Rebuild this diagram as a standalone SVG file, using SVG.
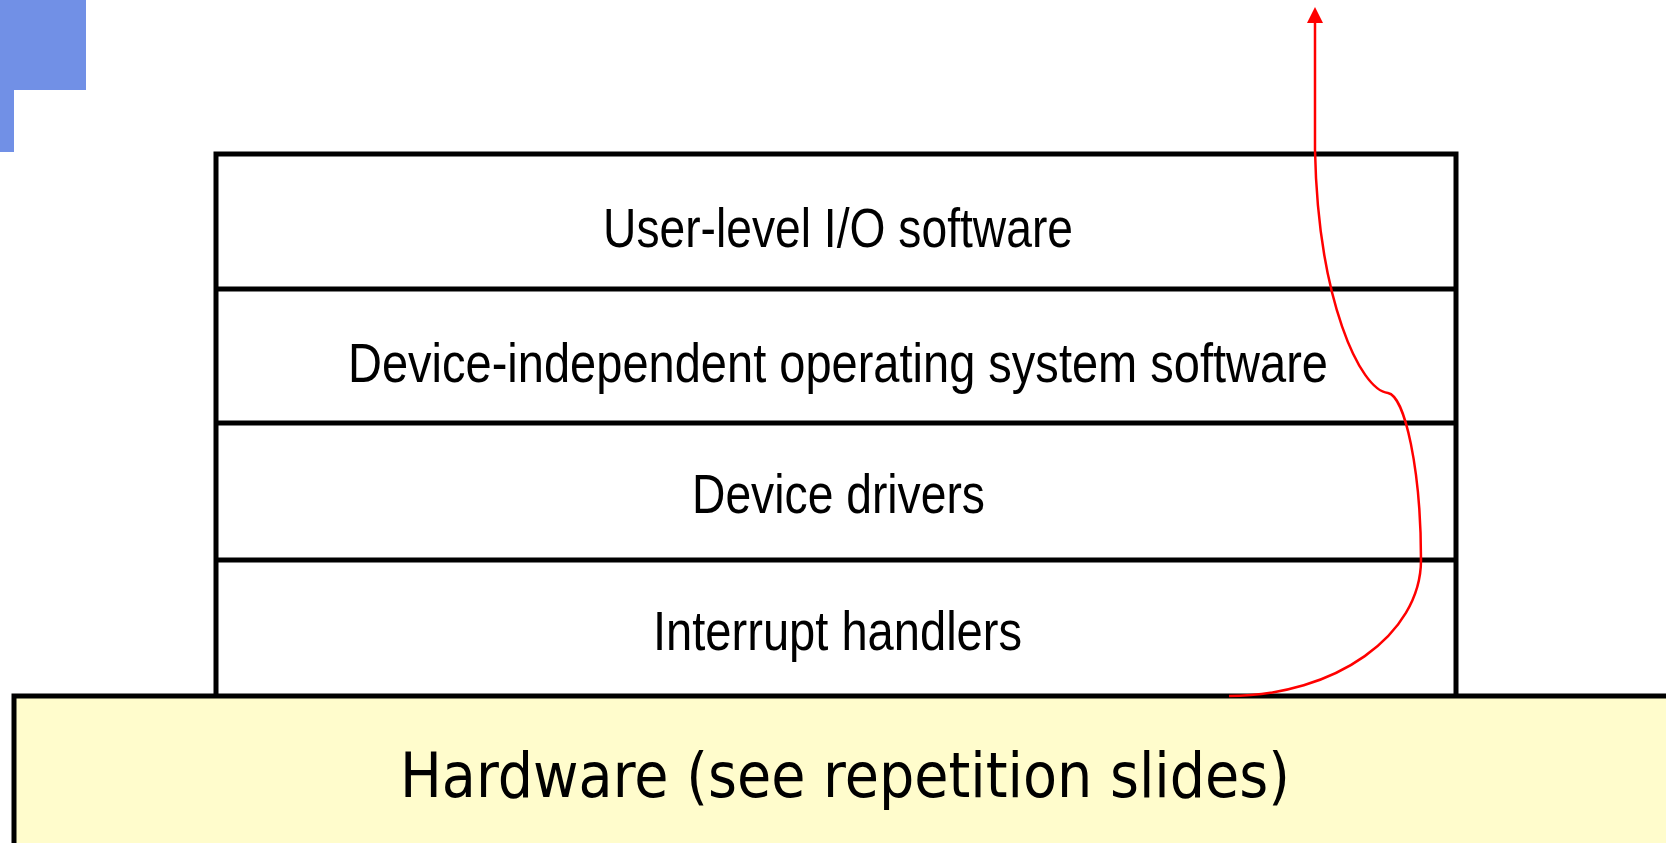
<svg xmlns="http://www.w3.org/2000/svg" width="1666" height="843" viewBox="0 0 1666 843">
  <style>
    .layer-line { stroke: #000; stroke-width: 5; fill: none; }
    .layer-text { font-family: "Liberation Sans", Arial, sans-serif; font-size: 55px; fill: #000; text-anchor: start; }
    .hw-text { font-family: "DejaVu Sans", Verdana, sans-serif; font-size: 62px; fill: #000; }
    .flow { stroke: #ff0000; stroke-width: 2.5; fill: none; }
  </style>
  <defs>
    <marker id="arrow" markerUnits="userSpaceOnUse" markerWidth="16" markerHeight="16" refX="0" refY="8" orient="auto" overflow="visible">
      <path d="M0,0 L16,8 L0,16 Z" fill="#ff0000"/>
    </marker>
  </defs>

  <rect width="1666" height="843" fill="#ffffff"/>

  <!-- corner ornament -->
  <g id="corner-mark" fill="#7190e6">
    <rect x="0" y="0" width="86" height="90"/>
    <rect x="0" y="0" width="14" height="152"/>
  </g>

  <!-- software layer stack -->
  <g id="stack-frame">
    <rect x="216" y="154" width="1240" height="560" fill="#ffffff" class="layer-line"/>
  </g>
  <g id="layer-user">
    <text class="layer-text" x="603" y="247" textLength="470" lengthAdjust="spacingAndGlyphs" font-size="58">User-level I/O software</text>
    <line class="layer-line" x1="216" y1="289" x2="1456" y2="289"/>
  </g>
  <g id="layer-device-independent">
    <text class="layer-text" x="348" y="382" textLength="980" lengthAdjust="spacingAndGlyphs">Device-independent operating system software</text>
    <line class="layer-line" x1="216" y1="423" x2="1456" y2="423"/>
  </g>
  <g id="layer-drivers">
    <text class="layer-text" x="692" y="513" textLength="293" lengthAdjust="spacingAndGlyphs">Device drivers</text>
    <line class="layer-line" x1="216" y1="560" x2="1456" y2="560"/>
  </g>
  <g id="layer-interrupts">
    <text class="layer-text" x="653" y="650" textLength="369" lengthAdjust="spacingAndGlyphs">Interrupt handlers</text>
  </g>

  <!-- hardware base -->
  <g id="hardware">
    <rect x="14" y="696" width="1680" height="170" fill="#fffccc" stroke="#000" stroke-width="5"/>
    <text class="hw-text" x="400" y="797" textLength="890" lengthAdjust="spacingAndGlyphs">Hardware (see repetition slides)</text>
  </g>

  <!-- upward flow through the layers -->
  <g id="connectors">
    <path class="flow" marker-end="url(#arrow)" d="M1229,696 C1335,696 1421,635 1421,560 C1421,470 1405,396 1388,393 C1360,390 1318,300 1315,150 L1315,23"/>
  </g>
</svg>
